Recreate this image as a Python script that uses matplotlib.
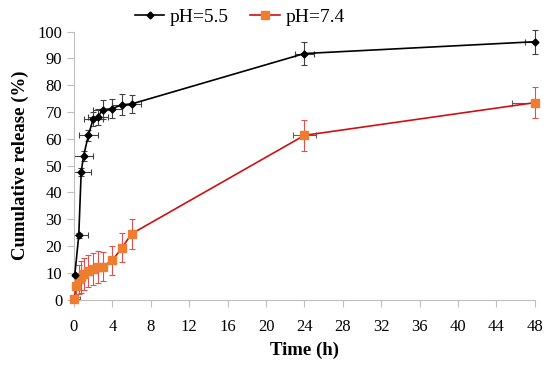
import matplotlib.pyplot as plt
import numpy as np

plt.rcParams["font.family"] = ["Liberation Serif", "DejaVu Serif"]

# release data
t_55 = [0.083, 0.5, 0.75, 1, 1.5, 2, 2.5, 3, 4, 5, 6, 24, 48]
y_55 = [9.2, 24.0, 47.6, 53.6, 61.3, 67.4, 68.3, 70.8, 71.3, 72.7, 73.0, 91.8, 96.2]
yerr_55 = [0.5, 0.8, 1.5, 2.0, 2.0, 2.5, 3.0, 3.5, 3.5, 4.0, 3.5, 4.4, 4.4]
xerr_55 = [0.1, 1.0, 1.0, 1.0, 1.0, 1.0, 1.0, 1.0, 1.0, 1.0, 1.0, 1.0, 1.0]

t_74 = [0, 0.25, 0.5, 0.75, 1, 1.5, 2, 2.5, 3, 4, 5, 6, 24, 48]
y_74 = [0.2, 5.1, 7.6, 8.6, 9.5, 10.8, 11.5, 12.1, 12.4, 14.7, 19.4, 24.6, 61.3, 73.5]
yerr_74 = [0.3, 4.0, 5.5, 6.0, 6.0, 6.0, 6.0, 6.0, 5.5, 5.5, 5.5, 5.5, 5.8, 5.8]
xerr_74 = [0.6, 0.1, 0.1, 0.1, 0.1, 0.1, 0.1, 0.1, 0.1, 0.1, 0.1, 0.1, 1.2, 2.4]

xticks = np.arange(0, 49, 4)
yticks = np.arange(0, 101, 10)

fig = plt.figure(figsize=(5.5, 3.71), dpi=100)
ax = fig.add_axes([0.1345, 0.192, 0.838, 0.723])

eb = dict(elinewidth=0.8, capsize=2.5, capthick=0.8, fmt="none", zorder=2)
# vertical bars are drawn unclipped so the 48 h bars show fully
ax.errorbar(t_55, y_55, yerr=yerr_55, ecolor="#404040", clip_on=False, **eb)
ax.errorbar(t_55, y_55, xerr=xerr_55, ecolor="#404040", **eb)
ax.errorbar(t_74, y_74, yerr=yerr_74, ecolor="#e05050", clip_on=False, **eb)
ax.errorbar(t_74, y_74, xerr=xerr_74, ecolor="#606060", **eb)

ax.plot(t_55, y_55, color="black", lw=1.2, marker="D", ms=3.5,
        mfc="black", mec="black", label="pH=5.5", zorder=4, clip_on=False)
ax.plot(t_74, y_74, color="#d01010", lw=1.2, marker="s", ms=6,
        mfc="#ed7d31", mec="#ed7d31", label="pH=7.4", zorder=3, clip_on=False)

ax.set_xlim(0, 48)
ax.set_ylim(0, 100)
ax.set_xticks(xticks)
ax.set_yticks(yticks)
ax.tick_params(axis="both", labelsize=12, color="#bfbfbf", length=5, direction="out")
ax.tick_params(axis="x", pad=9)
for s in ["top", "right"]:
    ax.spines[s].set_visible(False)
for s in ["left", "bottom"]:
    ax.spines[s].set_color("#bfbfbf")
ax.set_xlabel("Time (h)", fontsize=13.5, fontweight="bold", labelpad=5)
ax.set_ylabel("Cumulative release (%)", fontsize=13.5, fontweight="bold", labelpad=6)

fig.legend(loc="upper center", bbox_to_anchor=(0.436, 1.025), ncol=2, frameon=False,
           fontsize=14, handlelength=1.5, columnspacing=1.1, handletextpad=0.3)

fig.savefig("out.png", dpi=100)
